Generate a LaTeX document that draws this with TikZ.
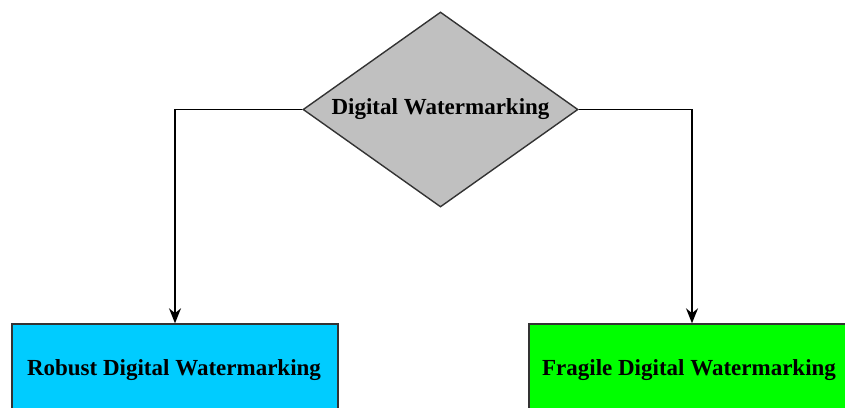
\documentclass[tikz,border=0pt]{standalone}
\usepackage{fontspec}
\setmainfont{Liberation Serif}
\usetikzlibrary{shapes.geometric,arrows.meta}
\definecolor{boxcyan}{RGB}{0,204,255}
\definecolor{boxgreen}{RGB}{0,255,0}
\definecolor{diagray}{RGB}{192,192,192}
\begin{document}
\begin{tikzpicture}[x=1pt,y=-1pt,
  lbl/.style={font=\fontsize{23}{27}\selectfont\bfseries},
  decision/.style={diamond,draw=black!80,line width=1.4pt,fill=diagray,minimum width=275pt,minimum height=195pt,inner sep=0pt,aspect=1.41},
  pbox/.style={rectangle,draw=black!80,line width=1.4pt,minimum width=326pt,minimum height=92pt,inner sep=0pt},
  conn/.style={draw=black,line width=1.3pt,-{Stealth[length=15pt,width=12pt]}}]
\useasboundingbox (0,0) rectangle (845,407);
\node[decision] (dw) at (440.5,109.5) {};
\node[lbl] (dwt) at (440.5,109) {Digital Watermarking};
\node[pbox,fill=boxcyan] (rob) at (175,370) {};
\node[lbl] (robt) at (174,370) {Robust Digital Watermarking};
\node[pbox,fill=boxgreen] (fra) at (692,370) {};
\node[lbl] (frat) at (689,370) {Fragile Digital Watermarking};
\draw[conn] (dw.west) -| (rob.north);
\draw[conn] (dw.east) -| (fra.north);
\end{tikzpicture}
\end{document}
